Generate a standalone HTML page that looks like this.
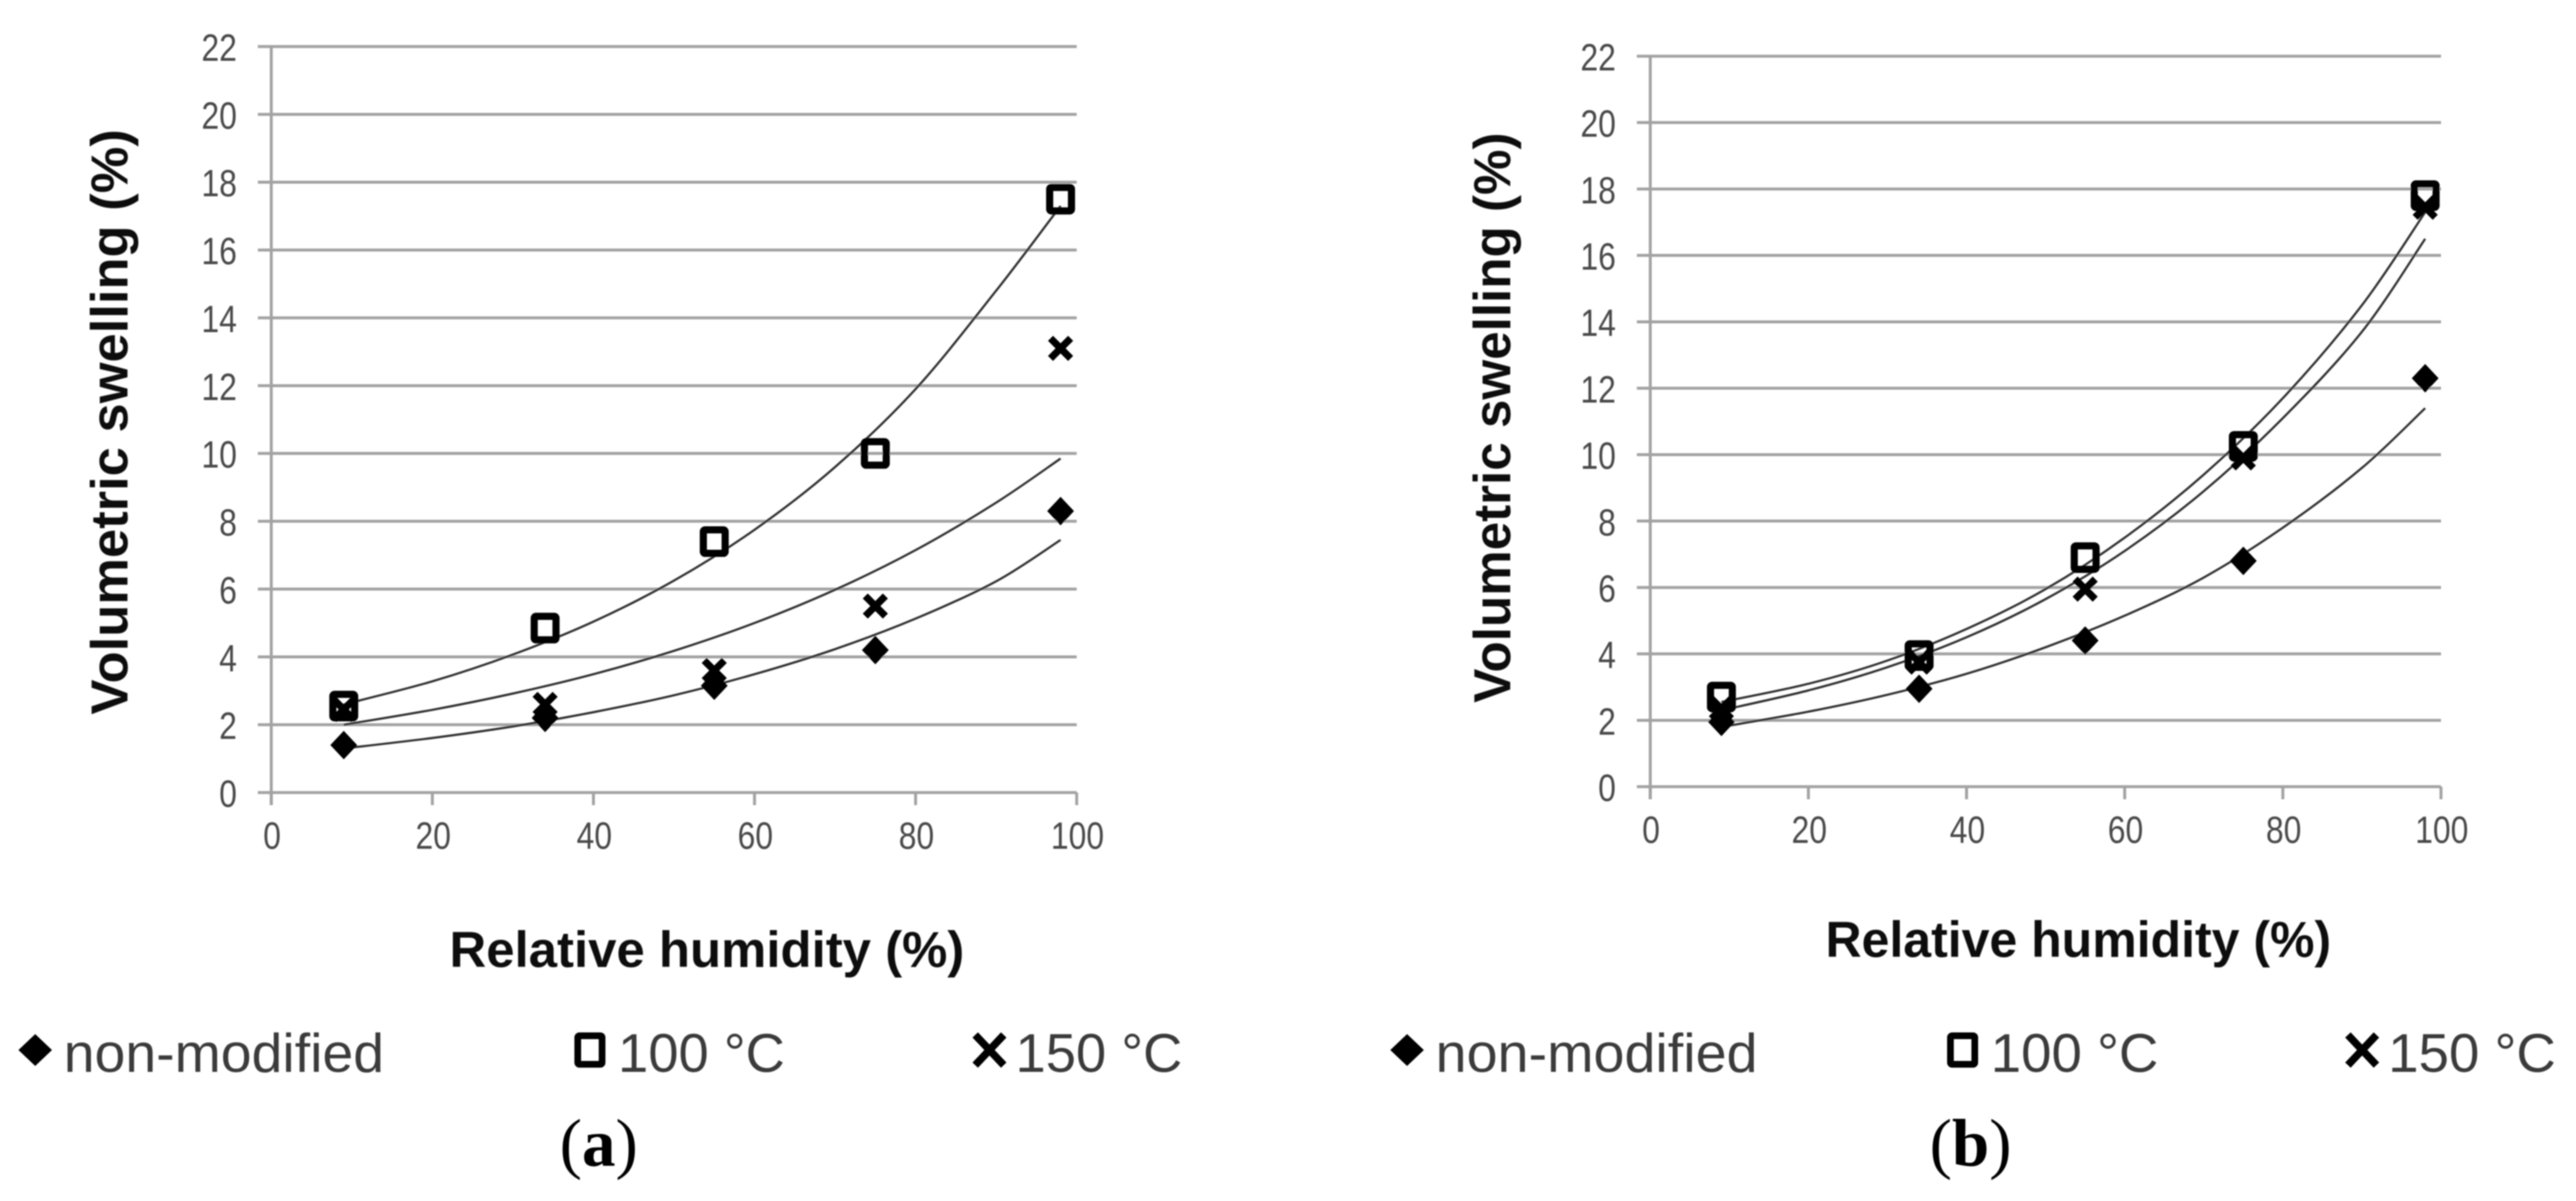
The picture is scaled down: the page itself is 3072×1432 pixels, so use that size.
<!DOCTYPE html>
<html lang="en">
<head>
<meta charset="utf-8">
<title>Volumetric swelling vs relative humidity</title>
<style>
  html, body { margin: 0; padding: 0; background: #fff; }
  #stage { display: block; width: 3072px; height: 1432px; }
  text { font-family: "Liberation Sans", sans-serif; }
  .title { font-weight: bold; fill: #111; font-size: 60px; }
  .tick { font-size: 38px; fill: #4a4a4a; }
  .legend { font-size: 65px; fill: #3a3a3a; }
  .caption { font-family: "Liberation Serif", serif; font-size: 80px; fill: #000; }
</style>
</head>
<body>
<svg id="stage" xmlns="http://www.w3.org/2000/svg" width="3072" height="1432" viewBox="0 0 3072 1432">
  <defs>
    <filter id="soft" x="-2%" y="-2%" width="104%" height="104%"><feGaussianBlur stdDeviation="0.8"/></filter>
  </defs>
  <rect width="3072" height="1432" fill="#fff"/>
  <g filter="url(#soft)">
    <g id="chart-a"></g>
    <g id="chart-b"></g>

    <text class="title" transform="translate(152,852) rotate(-90)" style="font-size:62px" textLength="698" lengthAdjust="spacingAndGlyphs">Volumetric swelling (%)</text>
    <text class="title" x="536" y="1153" textLength="614" lengthAdjust="spacingAndGlyphs">Relative humidity (%)</text>
    <text class="title" transform="translate(1801,838) rotate(-90)" style="font-size:62px" textLength="680" lengthAdjust="spacingAndGlyphs">Volumetric swelling (%)</text>
    <text class="title" x="2177" y="1141" textLength="603" lengthAdjust="spacingAndGlyphs">Relative humidity (%)</text>

    <g>
      <path d="M42 1233 L62 1252 L42 1271 L22 1252 Z" fill="#000"/>
      <text class="legend" x="76" y="1278" textLength="382" lengthAdjust="spacingAndGlyphs">non-modified</text>
      <rect x="689" y="1235" width="29" height="34" rx="2" fill="none" stroke="#000" stroke-width="8"/>
      <text class="legend" x="737" y="1278" textLength="199" lengthAdjust="spacingAndGlyphs">100 °C</text>
      <path d="M1163 1234 L1197 1270 M1197 1234 L1163 1270" stroke="#000" stroke-width="9" fill="none"/>
      <text class="legend" x="1211" y="1278" textLength="199" lengthAdjust="spacingAndGlyphs">150 °C</text>
    </g>
    <g>
      <path d="M1678 1233 L1698 1252 L1678 1271 L1658 1252 Z" fill="#000"/>
      <text class="legend" x="1712" y="1278" textLength="384" lengthAdjust="spacingAndGlyphs">non-modified</text>
      <rect x="2326" y="1235" width="29" height="34" rx="2" fill="none" stroke="#000" stroke-width="8"/>
      <text class="legend" x="2374" y="1278" textLength="200" lengthAdjust="spacingAndGlyphs">100 °C</text>
      <path d="M2800 1234 L2834 1270 M2834 1234 L2800 1270" stroke="#000" stroke-width="9" fill="none"/>
      <text class="legend" x="2848" y="1278" textLength="200" lengthAdjust="spacingAndGlyphs">150 °C</text>
    </g>

    <text class="caption" x="714" y="1390" text-anchor="middle">(<tspan font-weight="bold">a</tspan>)</text>
    <text class="caption" x="2350" y="1390" text-anchor="middle">(<tspan font-weight="bold">b</tspan>)</text>
  </g>
</svg>
<script>
var humidity = [9, 34, 55, 75, 98];
var xTickLabels = [0, 20, 40, 60, 80, 100];
var yTickLabels = [0, 2, 4, 6, 8, 10, 12, 14, 16, 18, 20, 22];
var trendHumidity = [9, 20, 30, 40, 50, 60, 70, 80, 90, 98];

var nonModifiedA = [1.4, 2.2, 3.15, 4.2, 8.3];
var heat100A = [2.55, 4.85, 7.4, 10, 17.5];
var heat150A = [2.45, 2.6, 3.6, 5.5, 13.1];
var trendNonModifiedA = [1.3, 1.61, 1.95, 2.37, 2.87, 3.49, 4.23, 5.13, 6.23, 7.45];
var trend100A = [2.6, 3.28, 4.07, 5.04, 6.25, 7.75, 9.6, 11.9, 14.8, 17.3];
var trend150A = [2.0, 2.44, 2.92, 3.49, 4.18, 5.0, 5.98, 7.15, 8.55, 9.85];

var nonModifiedB = [1.95, 2.95, 4.4, 6.8, 12.3];
var heat100B = [2.7, 3.95, 6.9, 10.25, 17.8];
var heat150B = [2.35, 3.75, 5.95, 9.9, 17.45];
var trendNonModifiedB = [1.8, 2.26, 2.77, 3.4, 4.2, 5.15, 6.3, 7.8, 9.6, 11.4];
var trend100B = [2.55, 3.1, 3.8, 4.75, 5.95, 7.5, 9.4, 11.7, 14.5, 17.3];
var trend150B = [2.3, 2.9, 3.6, 4.5, 5.65, 7.1, 8.9, 11.1, 13.7, 16.5];

var NS = 'http://www.w3.org/2000/svg';

function makeEl(parent, tag, attrs) {
  var el = document.createElementNS(NS, tag);
  for (var k in attrs) el.setAttribute(k, attrs[k]);
  parent.appendChild(el);
  return el;
}

function smoothPath(pts) {
  var d = 'M' + pts[0][0] + ' ' + pts[0][1];
  for (var i = 0; i < pts.length - 1; i++) {
    var p0 = pts[Math.max(i - 1, 0)], p1 = pts[i], p2 = pts[i + 1], p3 = pts[Math.min(i + 2, pts.length - 1)];
    d += ' C' + (p1[0] + (p2[0] - p0[0]) / 6) + ' ' + (p1[1] + (p2[1] - p0[1]) / 6) +
         ' ' + (p2[0] - (p3[0] - p1[0]) / 6) + ' ' + (p2[1] - (p3[1] - p1[1]) / 6) +
         ' ' + p2[0] + ' ' + p2[1];
  }
  return d;
}

function drawChart(cfg) {
  var g = document.getElementById(cfg.id);
  var x = function (v) { return cfg.x0 + (cfg.x100 - cfg.x0) * v / 100; };
  var y = function (v) { return cfg.y0 - (cfg.y0 - cfg.y22) * v / 22; };

  yTickLabels.forEach(function (v) {
    var line = makeEl(g, 'line', { x1: cfg.x0 - 16, x2: cfg.x100, y1: y(v), y2: y(v), stroke: '#a2a2a2', 'stroke-width': 3.5 });
    
    
    var label = makeEl(g, 'text', { 'class': 'tick', 'text-anchor': 'end', transform: 'translate(' + (cfg.x0 - 41) + ',' + (y(v) + 17) + ') scale(1,1.2)' });
    
    
    label.textContent = v;
  });

  var axis = makeEl(g, 'line', { x1: cfg.x0, x2: cfg.x0, y1: y(22), y2: cfg.y0 + 15, stroke: '#a2a2a2', 'stroke-width': 3.5 });
  
  

  xTickLabels.forEach(function (v) {
    var tick = makeEl(g, 'line', { x1: x(v), x2: x(v), y1: cfg.y0, y2: cfg.y0 + 15, stroke: '#a2a2a2', 'stroke-width': 3.5 });
    
    
    var label = makeEl(g, 'text', { 'class': 'tick', 'text-anchor': 'middle', transform: 'translate(' + (x(v) + 1) + ',' + (cfg.y0 + 67) + ') scale(1,1.2)' });
    
    
    label.textContent = v;
  });

  cfg.trends.forEach(function (values) {
    var pts = trendHumidity.map(function (h, i) { return [x(h), y(values[i])]; });
    var trend = makeEl(g, 'path', { d: smoothPath(pts), fill: 'none', stroke: '#2e2e2e', 'stroke-width': 2.6 });
    
    
  });

  humidity.forEach(function (h, i) {
    var cx = x(h), cy = y(cfg.nonModified[i]);
    var d = makeEl(g, 'path', { d: 'M' + cx + ' ' + (cy - 17) + ' L' + (cx + 16) + ' ' + cy + ' L' + cx + ' ' + (cy + 17) + ' L' + (cx - 16) + ' ' + cy + ' Z', fill: '#000' });
    
    
  });
  humidity.forEach(function (h, i) {
    var cx = x(h), cy = y(cfg.heat100[i]);
    var s = makeEl(g, 'rect', { x: cx - 13, y: cy - 14, width: 26, height: 28, rx: 2, fill: 'none', stroke: '#000', 'stroke-width': 8.5 });
    
    
  });
  humidity.forEach(function (h, i) {
    var cx = x(h), cy = y(cfg.heat150[i]);
    var c = makeEl(g, 'path', { d: 'M' + (cx - 12) + ' ' + (cy - 12) + ' L' + (cx + 12) + ' ' + (cy + 12) + ' M' + (cx + 12) + ' ' + (cy - 12) + ' L' + (cx - 12) + ' ' + (cy + 12), fill: 'none', stroke: '#000', 'stroke-width': 8.5 });
    
    
  });
}

drawChart({ id: 'chart-a', x0: 323.5, x100: 1284, y0: 945, y22: 55.5,
  nonModified: nonModifiedA, heat100: heat100A, heat150: heat150A,
  trends: [trendNonModifiedA, trend100A, trend150A] });
drawChart({ id: 'chart-b', x0: 1968, x100: 2911, y0: 938, y22: 67,
  nonModified: nonModifiedB, heat100: heat100B, heat150: heat150B,
  trends: [trendNonModifiedB, trend100B, trend150B] });
</script>
</body>
</html>
